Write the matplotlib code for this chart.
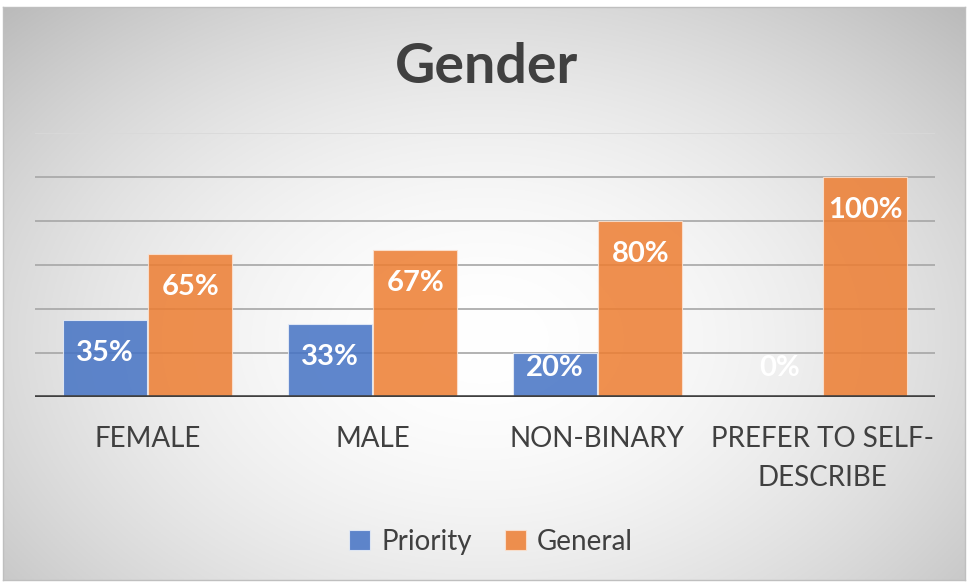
import matplotlib.pyplot as plt
import numpy as np

# Data
# ------------------------
categories = ['FEMALE', 'MALE', 'NON-BINARY', 'PREFER TO SELF-\nDESCRIBE']
priority = [0.35, 0.33, 0.20, 0.00]
general = [0.65, 0.67, 0.80, 1.00]
series_names = ['Priority', 'General']

plt.rcParams['font.family'] = ['Lato', 'DejaVu Sans']

W, H = 968, 583
fig = plt.figure(figsize=(W / 100, H / 100), dpi=100)
fig.patch.set_facecolor('white')

# Radial gradient background inside a bordered box
# ------------------------------------------------
bx0, bx1, by0, by1 = 3 / W, 965 / W, 3 / H, 1 - 7 / H
bg = fig.add_axes([bx0, by0, bx1 - bx0, by1 - by0])
yy, xx = np.mgrid[0:1:300j, 0:1:500j]
r = np.sqrt(((xx - 0.5) / 0.5) ** 2 + ((yy - 0.42) / 0.58) ** 2)
r = np.clip(r / r.max(), 0, 1)
shade = 1.0 - 0.27 * r ** 1.8
bg.imshow(np.dstack([shade] * 3), aspect='auto', extent=[0, 1, 0, 1], origin='lower')
bg.set_xlim(0, 1)
bg.set_ylim(0, 1)
bg.set_xticks([])
bg.set_yticks([])
for s in bg.spines.values():
    s.set_color('#bfbfbf')
    s.set_linewidth(1)

# Main plot area
# --------------
ax = fig.add_axes([35 / W, 1 - 397 / H, 900 / W, (397 - 133) / H])
ax.patch.set_alpha(0)
ax.set_xlim(-0.5, 3.5)
ax.set_ylim(0, 1.2)

for g in [0.2, 0.4, 0.6, 0.8, 1.0]:
    ax.axhline(g, color='#a6a6a6', lw=1.2, zorder=1)
ax.axhline(1.2, color='#d9d9d9', lw=1.2, zorder=1)

x = np.arange(len(categories))
bw = 0.373
b1 = ax.bar(x - 0.19, priority, bw, color='#4472c4', alpha=0.85,
            edgecolor='#e8eef8', linewidth=0.8, zorder=2, label=series_names[0])
b2 = ax.bar(x + 0.19, general, bw, color='#ed7d31', alpha=0.85,
            edgecolor='#fbe3d3', linewidth=0.8, zorder=2, label=series_names[1])

# labels sit inside the bar end, but never lower than just above the axis
for bars, vals in ((b1, priority), (b2, general)):
    for rect, v in zip(bars, vals):
        ylab = max(v - 0.15, 0.132)
        ax.text(rect.get_x() + rect.get_width() / 2, ylab, '{:.0%}'.format(v),
                ha='center', va='center', color='white',
                fontsize=21, fontweight='bold', zorder=3)

ax.axhline(0, color='#404040', lw=2.6, zorder=4)

ax.set_yticks([])
ax.set_xticks(x)
ax.set_xticklabels(categories, fontsize=20, color='#404040', linespacing=1.6)
ax.tick_params(axis='x', length=0, pad=21)
for s in ax.spines.values():
    s.set_visible(False)

# Title and legend
# ----------------
fig.text(486 / W, 1 - 67 / H, 'Gender', ha='center', va='center',
         fontsize=40, fontweight='bold', color='#404040')

fig.legend(handles=[b1, b2], loc='center', bbox_to_anchor=(491 / W, 1 - 542 / H),
           ncol=2, frameon=False, fontsize=20, handlelength=0.75, handleheight=0.75,
           handletextpad=0.4, columnspacing=1.2, labelcolor='#404040')

plt.savefig('out.png', dpi=100)
